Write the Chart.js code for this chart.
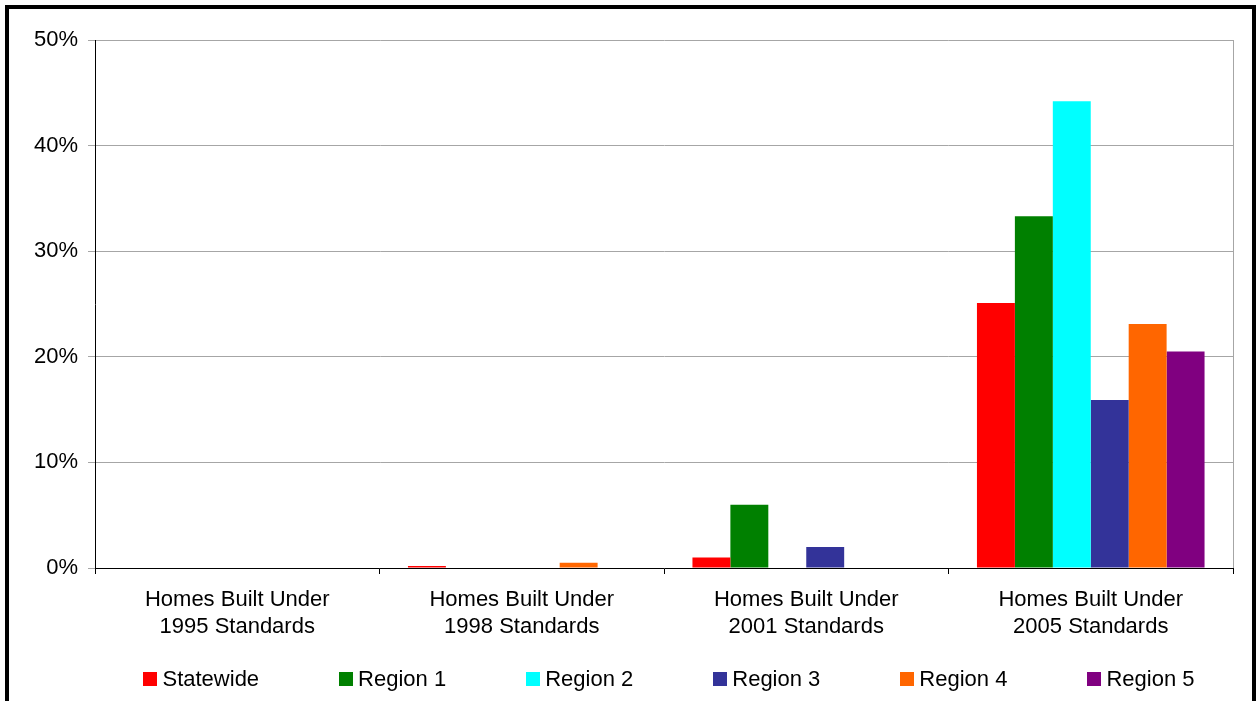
<!DOCTYPE html>
<html>
<head>
<meta charset="utf-8">
<title>Homes Built Under Standards</title>
<script src="https://cdn.jsdelivr.net/npm/chart.js@4/dist/chart.umd.min.js"></script>
<style>
  html, body { margin: 0; padding: 0; background: #fff; overflow: hidden; }
  #wrap { position: relative; width: 1257px; height: 701px; }
  #chart { position: absolute; left: 0; top: 0; }
  /* black frame round the whole chart, bottom edge runs off the page */
  #frame {
    position: absolute; left: 5px; top: 5px; width: 1251px; height: 800px;
    box-sizing: border-box; border: 4px solid #000; pointer-events: none;
  }
  #legend {
    position: absolute; left: 100px; top: 668px; width: 1138px;
    display: flex; justify-content: center; gap: 80px;
    font: 22px "Liberation Sans", Arial, sans-serif; line-height: 22px; color: #000;
  }
  #legend .item { display: flex; align-items: center; white-space: nowrap; }
  #legend .box { width: 14px; height: 14px; margin-right: 5px; }
</style>
</head>
<body>
<div id="wrap">
  <canvas id="chart" width="1257" height="701"></canvas>
  <div id="legend"></div>
  <div id="frame"></div>
</div>
<script>
// share of homes, in percent
const categories = [
  ['Homes Built Under', '1995 Standards'],
  ['Homes Built Under', '1998 Standards'],
  ['Homes Built Under', '2001 Standards'],
  ['Homes Built Under', '2005 Standards']
];
const statewide = [0, 0.2, 1.0, 25.1];
const region1 = [0, 0, 6.0, 33.3];
const region2 = [0, 0, 0, 44.2];
const region3 = [0, 0, 2.0, 15.9];
const region4 = [0, 0.5, 0, 23.1];
const region5 = [0, 0, 0, 20.5];
const yTicks = [0, 10, 20, 30, 40, 50];

Chart.defaults.font.family = '"Liberation Sans", Arial, sans-serif';
Chart.defaults.font.size = 22;
Chart.defaults.color = '#000';

// thin grey line closing the plot area on the right
const plotEdge = {
  id: 'plotEdge',
  afterDraw(chart) {
    const {ctx, chartArea} = chart;
    ctx.save();
    ctx.strokeStyle = '#a6a6a6';
    ctx.lineWidth = 1;
    ctx.beginPath();
    ctx.moveTo(Math.round(chartArea.right) + 0.5, chartArea.top);
    ctx.lineTo(Math.round(chartArea.right) + 0.5, chartArea.bottom);
    ctx.stroke();
    ctx.restore();
  }
};

const chart = new Chart(document.getElementById('chart'), {
  type: 'bar',
  data: {
    labels: categories,
    datasets: [
      {label: 'Statewide', data: statewide, backgroundColor: '#FF0000'},
      {label: 'Region 1', data: region1, backgroundColor: '#008000'},
      {label: 'Region 2', data: region2, backgroundColor: '#00FFFF'},
      {label: 'Region 3', data: region3, backgroundColor: '#333399'},
      {label: 'Region 4', data: region4, backgroundColor: '#FF6600'},
      {label: 'Region 5', data: region5, backgroundColor: '#800080'}
    ]
  },
  options: {
    responsive: false,
    animation: false,
    layout: {padding: {left: 0, top: 40, right: 24, bottom: 0}},
    datasets: {bar: {categoryPercentage: 0.8, barPercentage: 1.0}},
    plugins: {
      legend: {display: false},
      tooltip: {enabled: false}
    },
    scales: {
      x: {
        grid: {drawOnChartArea: false, offset: true, tickLength: 6, color: '#000'},
        border: {color: '#000'},
        ticks: {padding: 12, maxRotation: 0, autoSkip: false, font: {size: 22, lineHeight: 1.23}},
        afterFit: s => { s.height = 133; }
      },
      y: {
        min: yTicks[0],
        max: yTicks[yTicks.length - 1],
        afterBuildTicks: s => { s.ticks = yTicks.map(v => ({value: v})); },
        grid: {color: '#a6a6a6', tickLength: 7},
        border: {color: '#000'},
        ticks: {padding: 10, callback: v => v + '%'},
        afterFit: s => { s.width = 95; }
      }
    }
  },
  plugins: [plotEdge]
});

// legend built from the datasets
const legend = document.getElementById('legend');
chart.data.datasets.forEach(ds => {
  const item = document.createElement('div');
  item.className = 'item';
  const box = document.createElement('span');
  box.className = 'box';
  box.style.background = ds.backgroundColor;
  const text = document.createElement('span');
  text.textContent = ds.label;
  item.appendChild(box);
  item.appendChild(text);
  legend.appendChild(item);
});
</script>
</body>
</html>
